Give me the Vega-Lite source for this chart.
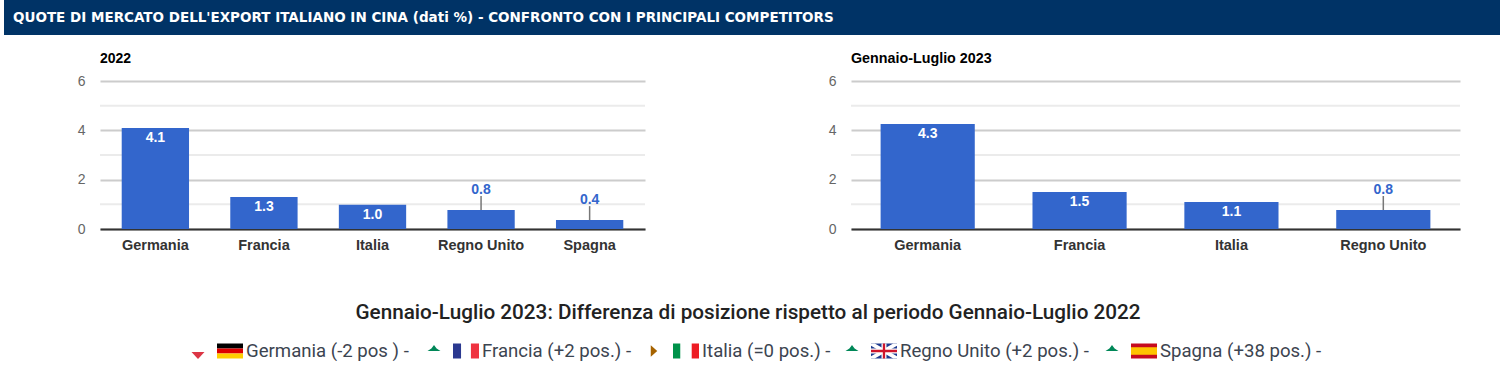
{
"$schema":"https://vega.github.io/schema/vega-lite/v6.json",
"padding":{"left":4,"top":0,"right":0,"bottom":0},
"background":"white",
"config":{"view":{"stroke":null},"font":"Liberation Sans"},
"datasets":{
"d2022":[{"paese":"Germania","quota":4.09},{"paese":"Francia","quota":1.3},{"paese":"Italia","quota":0.98},{"paese":"Regno Unito","quota":0.77},{"paese":"Spagna","quota":0.36}],
"d2023":[{"paese":"Germania","quota":4.26},{"paese":"Francia","quota":1.5},{"paese":"Italia","quota":1.09},{"paese":"Regno Unito","quota":0.77}],
"griglia":[{"minore":1},{"minore":3},{"minore":5}]
},
"spacing":16,
"align":"none",
"vconcat":[
{"width":1400,"height":35,
"data":{"values":[{"inizio":0,"fine":1,"testo":"QUOTE DI MERCATO DELL'EXPORT ITALIANO IN CINA (dati %) - CONFRONTO CON I PRINCIPALI COMPETITORS"}]},
"layer":[
{"mark":{"type":"rect","color":"#003366"},
"encoding":{"x":{"field":"inizio","type":"quantitative","axis":null,"scale":{"domain":[0,1],"range":[-96,1400]}},"x2":{"field":"fine"}}},
{"mark":{"type":"text","align":"left","dx":9,"font":"DejaVu Sans","fontWeight":"bold","fontSize":13.5,"color":"white"},
"encoding":{"x":{"field":"inizio","type":"quantitative"},"text":{"field":"testo"}}}
]},
{"hconcat":[
{"width":545,"height":148,"title":{"text":"2022","anchor":"start","frame":"group","fontSize":14,"fontWeight":"bold","color":"#000","offset":8},
"layer":[
{"data":{"name":"griglia"},"mark":{"type":"rule","color":"#ebebeb","strokeWidth":2},"encoding":{"y":{"field":"minore","type":"quantitative"}}},
{"data":{"name":"d2022"},"mark":{"type":"bar","color":"#3366cc"},"encoding":{
"x":{"field":"paese","type":"nominal","sort":null,"title":null,"scale":{"paddingInner":0.38,"paddingOuter":0.2},"axis":{"labelAngle":0,"ticks":false,"domainColor":"#333","domainWidth":2,"labelFont":"Liberation Sans","labelFontWeight":"bold","labelFontSize":14.5,"labelColor":"#333","labelPadding":9}},
"y":{"field":"quota","type":"quantitative","title":null,"scale":{"domain":[0,6],"nice":false},"axis":{"values":[0,2,4,6],"ticks":false,"domain":false,"gridColor":"#ccc","gridWidth":2,"labelFontSize":14,"labelColor":"#666","labelPadding":15,"minExtent":96,"maxExtent":96}}}},
{"data":{"name":"d2022"},"transform":[{"filter":"datum.quota<0.9"}],"mark":{"type":"rule","color":"#777","strokeWidth":1.5,"y2Offset":-14},"encoding":{"x":{"field":"paese","type":"nominal","sort":null},"y":{"field":"quota","type":"quantitative"},"y2":{"field":"quota"}}},
{"data":{"name":"d2022"},"transform":[{"filter":"datum.quota<0.9"}],"mark":{"type":"text","color":"#3366cc","fontWeight":"bold","fontSize":14,"dy":-20},"encoding":{"x":{"field":"paese","type":"nominal","sort":null},"y":{"field":"quota","type":"quantitative"},"text":{"field":"quota","format":".1f"}}},
{"data":{"name":"d2022"},"transform":[{"filter":"datum.quota>=0.9"}],"mark":{"type":"text","color":"white","fontWeight":"bold","fontSize":14,"dy":10},"encoding":{"x":{"field":"paese","type":"nominal","sort":null},"y":{"field":"quota","type":"quantitative"},"text":{"field":"quota","format":".1f"}}}
]},
{"width":609,"height":148,"title":{"text":"Gennaio-Luglio 2023","anchor":"start","frame":"group","fontSize":14.3,"fontWeight":"bold","color":"#000","offset":8},
"layer":[
{"data":{"name":"griglia"},"mark":{"type":"rule","color":"#ebebeb","strokeWidth":2},"encoding":{"y":{"field":"minore","type":"quantitative"}}},
{"data":{"name":"d2023"},"mark":{"type":"bar","color":"#3366cc"},"encoding":{
"x":{"field":"paese","type":"nominal","sort":null,"title":null,"scale":{"paddingInner":0.38,"paddingOuter":0.195},"axis":{"labelAngle":0,"ticks":false,"domainColor":"#333","domainWidth":2,"labelFont":"Liberation Sans","labelFontWeight":"bold","labelFontSize":14.5,"labelColor":"#333","labelPadding":9}},
"y":{"field":"quota","type":"quantitative","title":null,"scale":{"domain":[0,6],"nice":false},"axis":{"values":[0,2,4,6],"ticks":false,"domain":false,"gridColor":"#ccc","gridWidth":2,"labelFontSize":14,"labelColor":"#666","labelPadding":15,"minExtent":96,"maxExtent":96}}}},
{"data":{"name":"d2023"},"transform":[{"filter":"datum.quota<0.9"}],"mark":{"type":"rule","color":"#777","strokeWidth":1.5,"y2Offset":-14},"encoding":{"x":{"field":"paese","type":"nominal","sort":null},"y":{"field":"quota","type":"quantitative"},"y2":{"field":"quota"}}},
{"data":{"name":"d2023"},"transform":[{"filter":"datum.quota<0.9"}],"mark":{"type":"text","color":"#3366cc","fontWeight":"bold","fontSize":14,"dy":-20},"encoding":{"x":{"field":"paese","type":"nominal","sort":null},"y":{"field":"quota","type":"quantitative"},"text":{"field":"quota","format":".1f"}}},
{"data":{"name":"d2023"},"transform":[{"filter":"datum.quota>=0.9"}],"mark":{"type":"text","color":"white","fontWeight":"bold","fontSize":14,"dy":10},"encoding":{"x":{"field":"paese","type":"nominal","sort":null},"y":{"field":"quota","type":"quantitative"},"text":{"field":"quota","format":".1f"}}}
]}
],"spacing":109},
{"width":1400,"height":90,
"layer":[
{"data":{"values":[{"riga":"titolo","ordine":3,"testo":"Gennaio-Luglio 2023: Differenza di posizione rispetto al periodo Gennaio-Luglio 2022"}]},
"mark":{"type":"text","font":"Roboto","fontWeight":500,"fontSize":20.7,"color":"#222","dx":94},
"encoding":{"x":{"field":"ordine","type":"quantitative","axis":null,"scale":{"domain":[1,2,3,4,5],"range":[98,334,554,752,1012],"nice":false,"zero":false}},
"y":{"field":"riga","type":"nominal","axis":null,"scale":{"type":"point","domain":["titolo","legenda"],"range":[45,83],"padding":0}},"text":{"field":"testo"}}},
{"data":{"values":[
{"riga":"legenda","ordine":1,"simbolo":"giu"},{"riga":"legenda","ordine":1,"simbolo":"de-nero"},{"riga":"legenda","ordine":1,"simbolo":"de-rosso"},{"riga":"legenda","ordine":1,"simbolo":"de-oro"},
{"riga":"legenda","ordine":2,"simbolo":"su"},{"riga":"legenda","ordine":2,"simbolo":"fr-blu"},{"riga":"legenda","ordine":2,"simbolo":"fr-rosso"},
{"riga":"legenda","ordine":3,"simbolo":"destra"},{"riga":"legenda","ordine":3,"simbolo":"it-verde"},{"riga":"legenda","ordine":3,"simbolo":"it-rosso"},
{"riga":"legenda","ordine":4,"simbolo":"su"},{"riga":"legenda","ordine":4,"simbolo":"uk-blu"},{"riga":"legenda","ordine":4,"simbolo":"uk-diagonali"},{"riga":"legenda","ordine":4,"simbolo":"uk-croce-bianca"},{"riga":"legenda","ordine":4,"simbolo":"uk-croce-rossa"},
{"riga":"legenda","ordine":5,"simbolo":"su"},{"riga":"legenda","ordine":5,"simbolo":"es-rosso"},{"riga":"legenda","ordine":5,"simbolo":"es-giallo"}
]},
"mark":{"type":"point","filled":true,"opacity":1,"size":676,"strokeWidth":0},
"encoding":{
"x":{"field":"ordine","type":"quantitative"},
"y":{"field":"riga","type":"nominal"},
"shape":{"field":"simbolo","type":"nominal","legend":null,"scale":{
"domain":["giu","su","destra","de-nero","de-rosso","de-oro","fr-blu","fr-rosso","it-verde","it-rosso","uk-blu","uk-diagonali","uk-croce-bianca","uk-croce-rossa","es-rosso","es-giallo"],
"range":[
"M-0.5,0.08 L0.5,0.08 L0,0.62 Z",
"M-0.5,0 L-0.2,-0.2 L0,-0.46 L0.2,-0.2 L0.5,0 Z",
"M-0.25,-0.45 L0.25,0 L-0.25,0.45 Z",
"M1.462,-0.577 H3.462 V-0.192 H1.462 Z",
"M1.462,-0.192 H3.462 V0.192 H1.462 Z",
"M1.462,0.192 H3.462 V0.577 H1.462 Z",
"M1.462,-0.577 H2.08 V0.577 H1.462 Z",
"M2.84,-0.577 H3.462 V0.577 H2.84 Z",
"M1.462,-0.577 H2.02 V0.577 H1.462 Z",
"M2.9,-0.577 H3.462 V0.577 H2.9 Z",
"M1.462,-0.577 H3.462 V0.577 H1.462 Z",
"M1.462,-0.577 L1.75,-0.577 L3.462,0.4 L3.462,0.577 L3.17,0.577 L1.462,-0.4 Z M3.462,-0.577 L3.462,-0.4 L1.75,0.577 L1.462,0.577 L1.462,0.4 L3.17,-0.577 Z",
"M2.27,-0.577 H2.65 V-0.19 H3.462 V0.19 H2.65 V0.577 H2.27 V0.19 H1.462 V-0.19 H2.27 Z",
"M2.37,-0.577 H2.55 V-0.09 H3.462 V0.09 H2.55 V0.577 H2.37 V0.09 H1.462 V-0.09 H2.37 Z",
"M1.462,-0.577 H3.462 V0.577 H1.462 Z",
"M1.462,-0.29 H3.462 V0.29 H1.462 Z"
]}},
"fill":{"field":"simbolo","type":"nominal","legend":null,"scale":{
"domain":["giu","su","destra","de-nero","de-rosso","de-oro","fr-blu","fr-rosso","it-verde","it-rosso","uk-blu","uk-diagonali","uk-croce-bianca","uk-croce-rossa","es-rosso","es-giallo"],
"range":["#dc3545","#008758","#a66300","#000000","#dd0000","#ffce00","#2b3990","#ef3340","#00924a","#ed1c24","#1f3a8f","#ffffff","#ffffff","#cf142b","#c60b1e","#ffc400"]}}
}},
{"data":{"values":[
{"riga":"legenda","ordine":1,"testo":"Germania (-2 pos ) -"},
{"riga":"legenda","ordine":2,"testo":"Francia (+2 pos.) -"},
{"riga":"legenda","ordine":3,"testo":"Italia (=0 pos.) -"},
{"riga":"legenda","ordine":4,"testo":"Regno Unito (+2 pos.) -"},
{"riga":"legenda","ordine":5,"testo":"Spagna (+38 pos.) -"}
]},
"mark":{"type":"text","align":"left","font":"Roboto","fontWeight":400,"fontSize":18.6,"color":"#3c4450","dx":48},
"encoding":{"x":{"field":"ordine","type":"quantitative"},"y":{"field":"riga","type":"nominal"},"text":{"field":"testo"}}}
]}
]
}
